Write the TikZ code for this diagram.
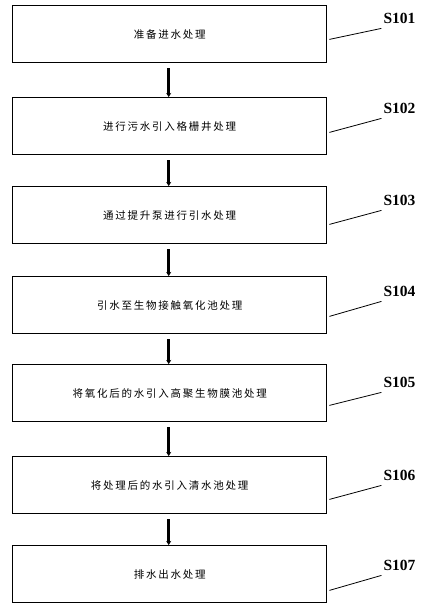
\documentclass[tikz,border=0pt]{standalone}
\usepackage{fontspec}
\setmainfont{Liberation Serif}
\newfontfamily\cjk{Noto Sans CJK SC}
\usetikzlibrary{arrows.meta}
\begin{document}
\begin{tikzpicture}[x=1pt,y=-1pt,
  stepbox/.style={draw,line width=1.4pt,minimum width=314pt,minimum height=57pt,anchor=north west,inner sep=0pt,font=\cjk\fontsize{10.5}{12}\selectfont},
  flow/.style={line width=2.6pt,-{Stealth[length=4pt,width=5pt]}},
  leader/.style={line width=0.8pt},
  steplabel/.style={font=\bfseries\fontsize{15.5}{16}\selectfont,inner sep=0pt}]
\useasboundingbox (0,0) rectangle (422,607);
\node[stepbox] (b1) at (12,5)   {准\,备\,进\,水\,处\,理};
\node[stepbox] (b2) at (12,97)  {进\,行\,污\,水\,引\,入\,格\,栅\,井\,处\,理};
\node[stepbox] (b3) at (12,186) {通\,过\,提\,升\,泵\,进\,行\,引\,水\,处\,理};
\node[stepbox] (b4) at (12,276) {引\,水\,至\,生\,物\,接\,触\,氧\,化\,池\,处\,理};
\node[stepbox] (b5) at (12,364) {将\,氧\,化\,后\,的\,水\,引\,入\,高\,聚\,生\,物\,膜\,池\,处\,理};
\node[stepbox] (b6) at (12,456) {将\,处\,理\,后\,的\,水\,引\,入\,清\,水\,池\,处\,理};
\node[stepbox] (b7) at (12,545) {排\,水\,出\,水\,处\,理};
\foreach \a/\b in {b1/b2,b2/b3,b3/b4,b4/b5,b5/b6,b6/b7}{
  \draw[flow] ([xshift=-1pt,yshift=-5pt]\a.south) -- ([xshift=-1pt]\b.north);
}
\foreach \i/\n/\s/\e in {1/S101/24/35,2/S102/23/37,3/S103/20/34,4/S104/18/33,5/S105/17/30,6/S106/15/29,7/S107/13/28}{
  \coordinate (e\i) at ([xshift=54pt,yshift=\e pt]b\i.south east);
  \draw[leader] ([xshift=2pt,yshift=\s pt]b\i.south east) -- (e\i);
  \node[steplabel,anchor=south west] (l\i) at ([xshift=2pt,yshift=5pt]e\i) {\n};
}
\end{tikzpicture}
\end{document}
